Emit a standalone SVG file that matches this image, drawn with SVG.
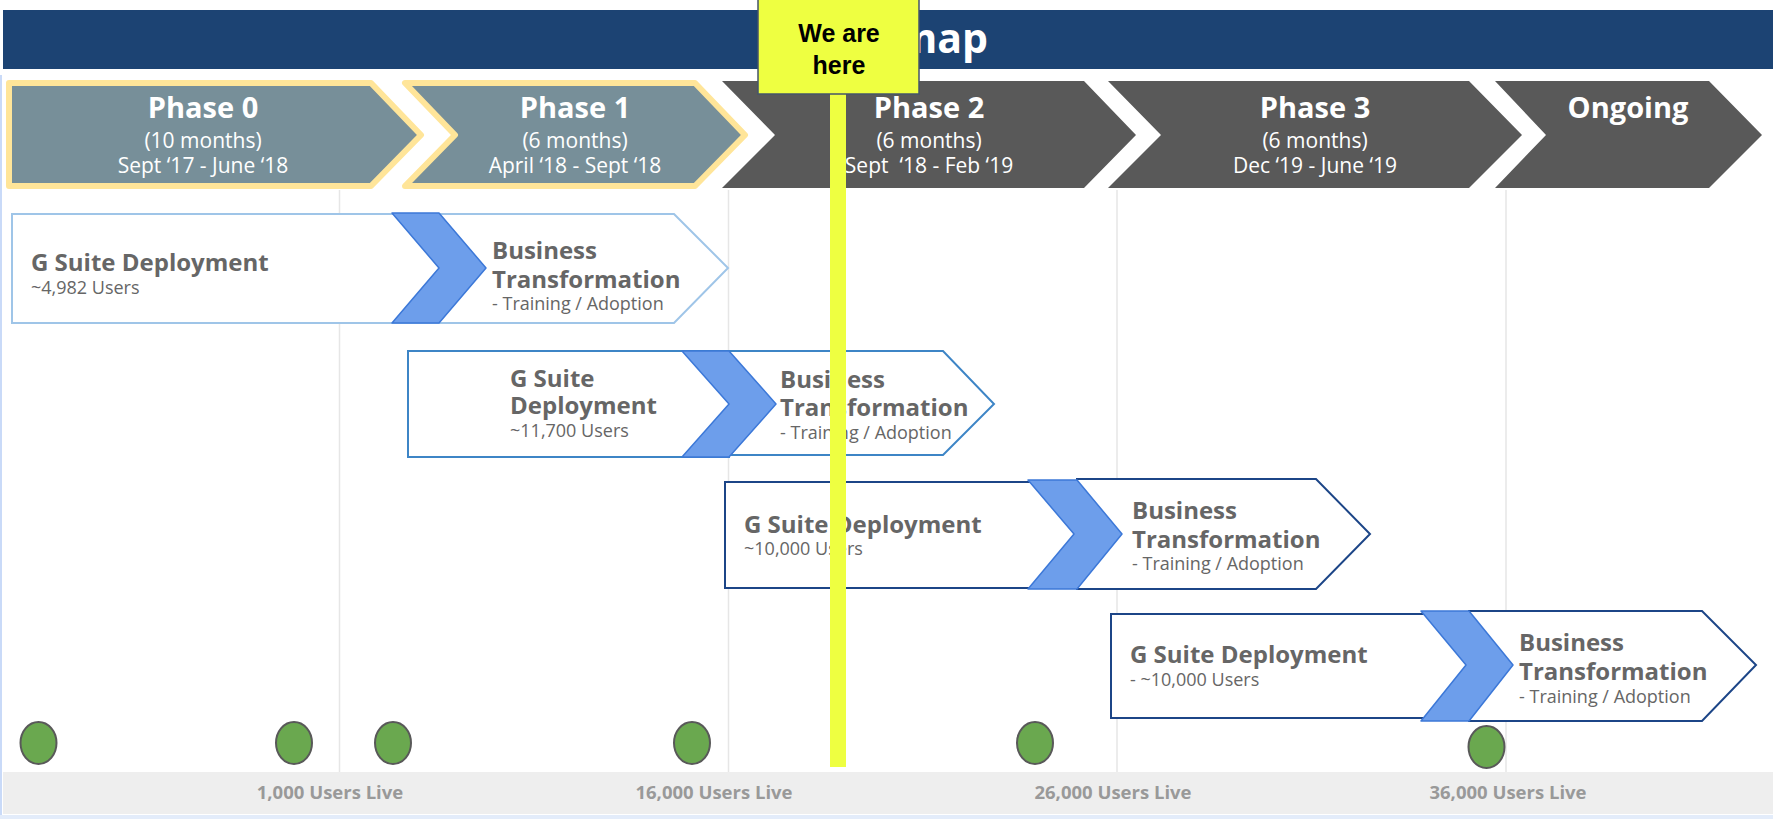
<svg xmlns="http://www.w3.org/2000/svg" width="1773" height="819" viewBox="0 0 1773 819">
<defs>
<style>
.ph{font-family:"Open Sans","Noto Sans",sans-serif;fill:#ffffff;text-anchor:middle}
.pt{font-size:29px;font-weight:700}
.ps{font-size:21px;font-weight:400}
.cur{fill:#778f99;stroke:#ffe599;stroke-width:6;stroke-linejoin:round}
.fut{fill:#595959}
.t{font-family:"Open Sans","Noto Sans",sans-serif;fill:#666666}
.tb{font-size:24px;font-weight:700}
.ts{font-size:18px;font-weight:400}
.box{fill:#ffffff;stroke-width:2}
.r1{stroke:#9fc5e8}
.r2{stroke:#3d85c6}
.r3{stroke:#1c4587}
.chev{fill:#6d9eeb;stroke:#3c78d8;stroke-width:1.5;stroke-linejoin:round}
.grid{stroke:#e6e6e6;stroke-width:1.5}
.ms{fill:#6aa84f;stroke:#595959;stroke-width:2}
.lbl{font-family:"Open Sans","Noto Sans",sans-serif;font-size:18.5px;font-weight:700;fill:#999999;text-anchor:middle}
</style>
</defs>
<rect width="1773" height="819" fill="#ffffff"/>
<line x1="1" y1="75" x2="1" y2="819" stroke="#c9daf8" stroke-width="2"/>
<rect x="0" y="815" width="1773" height="4" fill="#e3ecfa"/>

<g id="grid">
<line class="grid" x1="339.5" y1="190" x2="339.5" y2="772"/>
<line class="grid" x1="728.5" y1="190" x2="728.5" y2="772"/>
<line class="grid" x1="1117" y1="190" x2="1117" y2="772"/>
<line class="grid" x1="1506" y1="190" x2="1506" y2="772"/>
</g>

<g id="banner">
<rect x="3" y="10" width="1770" height="59" fill="#1c4373"/>
<text x="891" y="53" font-family="'Open Sans','Noto Sans',sans-serif" font-size="41" font-weight="700" fill="#ffffff" text-anchor="middle">Roadmap</text>
</g>

<g id="phase0">
<polygon class="cur" points="9,83 371,83 421,135 371,186 9,186"/>
<text class="ph pt" x="203" y="118">Phase 0</text>
<text class="ph ps" x="203" y="148">(10 months)</text>
<text class="ph ps" x="203" y="173">Sept ‘17 - June ‘18</text>
</g>
<g id="phase1">
<polygon class="cur" points="405,83 695,83 745,135 695,186 405,186 455,135"/>
<text class="ph pt" x="575" y="118">Phase 1</text>
<text class="ph ps" x="575" y="148">(6 months)</text>
<text class="ph ps" x="575" y="173">April ‘18 - Sept ‘18</text>
</g>
<g id="phase2">
<polygon class="fut" points="722,81 1084,81 1136,135 1084,188 722,188 775,135"/>
<text class="ph pt" x="929" y="118">Phase 2</text>
<text class="ph ps" x="929" y="148">(6 months)</text>
<text class="ph ps" x="929" y="173" xml:space="preserve">Sept  ‘18 - Feb ‘19</text>
</g>
<g id="phase3">
<polygon class="fut" points="1108,81 1469,81 1522,135 1469,188 1108,188 1161,135"/>
<text class="ph pt" x="1315" y="118">Phase 3</text>
<text class="ph ps" x="1315" y="148">(6 months)</text>
<text class="ph ps" x="1315" y="173">Dec ‘19 - June ‘19</text>
</g>
<g id="ongoing">
<polygon class="fut" points="1495,81 1709,81 1762,135 1709,188 1495,188 1546,135"/>
<text class="ph pt" x="1628" y="118">Ongoing</text>
</g>

<g id="row1-gsuite">
<rect class="box r1" x="12" y="214" width="427" height="109"/>
<text class="t tb" x="31" y="271">G Suite Deployment</text>
<text class="t ts" x="31" y="294">~4,982 Users</text>
</g>
<g id="row1-business">
<polygon class="box r1" points="439,214 674,214 728,268 674,323 439,323"/>
<text class="t tb" x="492" y="259">Business</text>
<text class="t tb" x="492" y="288">Transformation</text>
<text class="t ts" x="492" y="310">- Training / Adoption</text>
</g>

<g id="row2-gsuite">
<rect class="box r2" x="408" y="351" width="321" height="106"/>
<text class="t tb" x="510" y="387">G Suite</text>
<text class="t tb" x="510" y="414">Deployment</text>
<text class="t ts" x="510" y="437">~11,700 Users</text>
</g>
<g id="row2-business">
<polygon class="box r2" points="729,351 943,351 994,404 943,455 729,455"/>
<text class="t tb" x="780" y="388">Business</text>
<text class="t tb" x="780" y="416">Transformation</text>
<text class="t ts" x="780" y="439">- Training / Adoption</text>
</g>

<g id="row3-gsuite">
<rect class="box r3" x="725" y="482" width="352" height="106"/>
<text class="t tb" x="744" y="533">G Suite Deployment</text>
<text class="t ts" x="744" y="555">~10,000 Users</text>
</g>
<g id="row3-business">
<polygon class="box r3" points="1077,479 1316,479 1370,534 1316,589 1077,589"/>
<text class="t tb" x="1132" y="519">Business</text>
<text class="t tb" x="1132" y="548">Transformation</text>
<text class="t ts" x="1132" y="570">- Training / Adoption</text>
</g>

<g id="row4-gsuite">
<rect class="box r3" x="1111" y="614" width="358" height="104"/>
<text class="t tb" x="1130" y="663">G Suite Deployment</text>
<text class="t ts" x="1130" y="686">- ~10,000 Users</text>
</g>
<g id="row4-business">
<polygon class="box r3" points="1469,611 1702,611 1756,665 1702,721 1469,721"/>
<text class="t tb" x="1519" y="651">Business</text>
<text class="t tb" x="1519" y="680">Transformation</text>
<text class="t ts" x="1519" y="703">- Training / Adoption</text>
</g>

<g id="connectors">
<polygon class="chev" points="392,213 439,213 486,268 439,323 392,323 439,268"/>
<polygon class="chev" points="682,351 729,351 776,404 729,457 682,457 729,404"/>
<polygon class="chev" points="1028,480 1077,480 1122,534 1077,589 1028,589 1074,534"/>
<polygon class="chev" points="1421,611 1469,611 1513,665 1469,721 1421,721 1466,665"/>
</g>

<g id="axis">
<rect x="3" y="772" width="1770" height="42" fill="#eeeeee"/>
<text class="lbl" x="330" y="799">1,000 Users Live</text>
<text class="lbl" x="714" y="799">16,000 Users Live</text>
<text class="lbl" x="1113" y="799">26,000 Users Live</text>
<text class="lbl" x="1508" y="799">36,000 Users Live</text>
</g>

<g id="milestones">
<ellipse class="ms" cx="38.5" cy="743" rx="18" ry="21"/>
<ellipse class="ms" cx="294" cy="743" rx="18" ry="21"/>
<ellipse class="ms" cx="393" cy="743" rx="18" ry="21"/>
<ellipse class="ms" cx="692" cy="743" rx="18" ry="21"/>
<ellipse class="ms" cx="1035" cy="743" rx="18" ry="21"/>
<ellipse class="ms" cx="1486.5" cy="747" rx="18" ry="21"/>
</g>

<g id="we-are-here">
<rect x="830" y="94" width="16" height="673" fill="#eeff41"/>
<rect x="758" y="-1" width="161" height="95" fill="#eeff41" stroke="#44546a" stroke-width="1.5"/>
<text x="839" y="42" font-family="'Liberation Sans',Arial,sans-serif" font-size="25" font-weight="700" fill="#000000" text-anchor="middle">We are</text>
<text x="839" y="74" font-family="'Liberation Sans',Arial,sans-serif" font-size="25" font-weight="700" fill="#000000" text-anchor="middle">here</text>
</g>
</svg>
